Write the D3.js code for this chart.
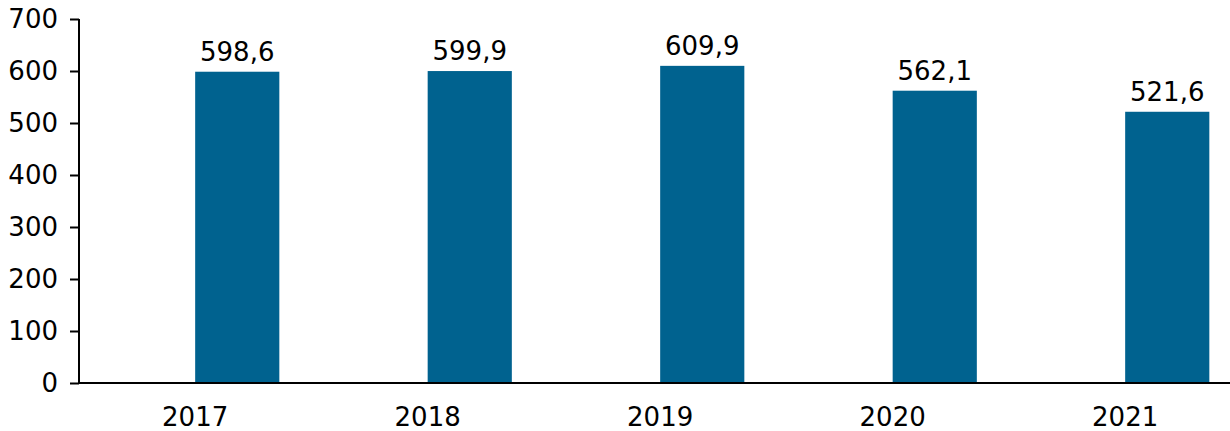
<!DOCTYPE html>
<html lang="en">
<head>
<meta charset="UTF-8" />
<title>Bar chart</title>
<script src="https://d3js.org/d3.v7.min.js"></script>
<style>
    body { margin: 0; background: #fff; overflow: hidden; }
    svg { display: block; }
    text { font-family: "DejaVu Sans", Verdana, sans-serif; fill: #000; }
</style>
</head>
<body>
<svg id="chart"></svg>
<script>
    const years = ["2017", "2018", "2019", "2020", "2021"];
    const values = [598.6, 599.9, 609.9, 562.1, 521.6];
    const yTicks = [0, 100, 200, 300, 400, 500, 600, 700];

    const width = 1230, height = 431;
    const fontSize = 26;
    const svg = d3.select("#chart").attr("width", width).attr("height", height);

    const x = d3.scaleBand()
        .domain(years)
        .range([121, 1283.5])
        .paddingInner(0.638)
        .paddingOuter(0.319);

    const y = d3.scaleLinear().domain([0, 700]).range([383, 19]);

    const fmt = v => d3.format(".1f")(v).replace(".", ",");

    // bars
    svg.append("g")
        .selectAll("rect")
        .data(values)
        .join("rect")
        .attr("x", (d, i) => x(years[i]))
        .attr("y", d => y(d))
        .attr("width", x.bandwidth())
        .attr("height", d => y(0) - y(d))
        .attr("fill", "#00628f");

    // value labels
    svg.append("g")
        .attr("font-size", fontSize)
        .attr("text-anchor", "middle")
        .selectAll("text")
        .data(values)
        .join("text")
        .attr("x", (d, i) => x(years[i]) + x.bandwidth() / 2)
        .attr("y", d => y(d) - 11)
        .text(fmt);

    // y axis
    const yAxis = svg.append("g")
        .attr("transform", "translate(79,0)")
        .call(d3.axisLeft(y).tickValues(yTicks).tickSize(9).tickPadding(12));
    yAxis.select(".domain").attr("stroke", "#000").attr("stroke-width", 2)
        .attr("d", `M0,${y(700)}V${y(0)}`);
    yAxis.selectAll(".tick line").attr("stroke", "#000").attr("stroke-width", 2);
    yAxis.selectAll(".tick text").attr("font-size", fontSize).attr("font-family", "DejaVu Sans, Verdana, sans-serif").attr("fill", "#000");

    // x axis line
    svg.append("line")
        .attr("x1", 78).attr("x2", 1230)
        .attr("y1", y(0)).attr("y2", y(0))
        .attr("stroke", "#000").attr("stroke-width", 2);

    // x labels (centred on the left edge of each bar, as in the source)
    svg.append("g")
        .attr("font-size", fontSize)
        .attr("text-anchor", "middle")
        .selectAll("text")
        .data(years)
        .join("text")
        .attr("x", d => x(d))
        .attr("y", 426)
        .text(d => d);
</script>
</body>
</html>
